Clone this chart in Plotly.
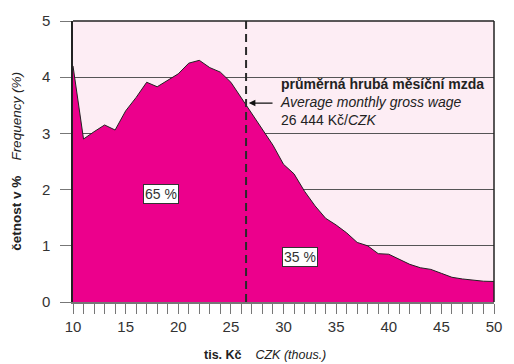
import plotly.graph_objects as go

# Wage distribution: monthly gross wage (thousand CZK) vs. share of employees (%)
wage_thous = list(range(10, 51))
frequency_pct = [
    4.20, 2.90, 3.03, 3.15, 3.06, 3.40, 3.64, 3.91, 3.83, 3.95,
    4.06, 4.25, 4.30, 4.17, 4.09, 3.91, 3.63, 3.33, 3.05, 2.79,
    2.45, 2.28, 1.97, 1.71, 1.49, 1.37, 1.23, 1.06, 1.00, 0.86,
    0.85, 0.76, 0.67, 0.61, 0.58, 0.51, 0.44, 0.41, 0.39, 0.37,
    0.365,
]
average_wage = 26.444
share_labels = ["65 %", "35 %"]
share_positions = [(18.4, 1.92), (31.6, 0.80)]

MAGENTA = "#EC008C"
BG_PINK = "#FDEDF4"
GRID = "#555555"
TICK = "#777777"
FONT = "Liberation Sans, Arial, sans-serif"

fig = go.Figure()
fig.add_trace(go.Scatter(
    x=wage_thous, y=frequency_pct, mode="lines", fill="tozeroy",
    fillcolor=MAGENTA, line=dict(color="#222222", width=1),
    hoverinfo="skip", showlegend=False,
))

# Average wage marker
fig.add_shape(type="line", x0=average_wage, x1=average_wage, y0=0, y1=5,
              xref="x", yref="y", line=dict(color="#2a2a2a", width=2, dash="8px,5px"))

fig.add_annotation(
    x=26.7, y=3.54, xref="x", yref="y", ax=29.1, ay=3.54, axref="x", ayref="y",
    text="", showarrow=True, arrowhead=2, arrowsize=1.1, arrowwidth=1.2, arrowcolor="#111111",
    standoff=0,
)
fig.add_annotation(
    x=29.45, y=3.55, xref="x", yref="y", xanchor="left", yanchor="middle",
    text="<b>průměrná hrubá měsíční mzda</b><br><i>Average monthly gross wage</i><br>26 444 Kč/<i>CZK</i>",
    showarrow=False, align="left", font=dict(family=FONT, size=14, color="#222222"),
)

for txt, (xv, yv) in zip(share_labels, share_positions):
    fig.add_annotation(
        x=xv, y=yv, xref="x", yref="y", text=txt, showarrow=False,
        bgcolor="white", bordercolor="#333333", borderwidth=1, borderpad=1,
        font=dict(family=FONT, size=14, color="#333333"),
    )

# Axis titles
fig.add_annotation(
    x=28.2, y=-0.19, xref="x", yref="paper", showarrow=False,
    xanchor="center", yanchor="middle",
    text="<b>tis. Kč</b>    <i>CZK (thous.)</i>",
    font=dict(family=FONT, size=12.5, color="#222222"),
)
fig.add_annotation(
    x=-0.135, y=0.5, xref="paper", yref="paper", showarrow=False,
    xanchor="center", yanchor="middle", textangle=-90,
    text="<b>četnost v %</b>    <i>Frequency (%)</i>",
    font=dict(family=FONT, size=13.5, color="#222222"),
)

fig.update_layout(
    width=514, height=364,
    margin=dict(l=73, r=13, t=15, b=62),
    paper_bgcolor="white", plot_bgcolor=BG_PINK,
    font=dict(family=FONT, color="#333333"),
    xaxis=dict(
        range=[10, 50], tickmode="linear", tick0=10, dtick=5,
        ticks="outside", ticklen=10, tickcolor=TICK, tickwidth=1,
        minor=dict(dtick=1, ticks="outside", ticklen=10, tickcolor=TICK, tickwidth=1, showgrid=False),
        showgrid=False, zeroline=False,
        showline=True, linecolor=TICK, linewidth=1.5,
        tickfont=dict(family=FONT, size=15, color="#333333"),
    ),
    yaxis=dict(
        range=[0, 5], tickmode="linear", tick0=0, dtick=1,
        ticks="outside", ticklen=11, tickcolor=TICK, tickwidth=1,
        ticklabelstandoff=7,
        showgrid=True, gridcolor=GRID, gridwidth=1, zeroline=False,
        showline=True, linecolor="#222222", linewidth=1.5, mirror=False,
        tickfont=dict(family=FONT, size=15, color="#333333"),
    ),
)

# Top and right frame lines
fig.add_shape(type="line", x0=0, x1=1, y0=1, y1=1, xref="paper", yref="paper",
              line=dict(color="#222222", width=1.5))
fig.add_shape(type="line", x0=1, x1=1, y0=0, y1=1, xref="paper", yref="paper",
              line=dict(color="#222222", width=1.5))

fig.write_html("out.html")
